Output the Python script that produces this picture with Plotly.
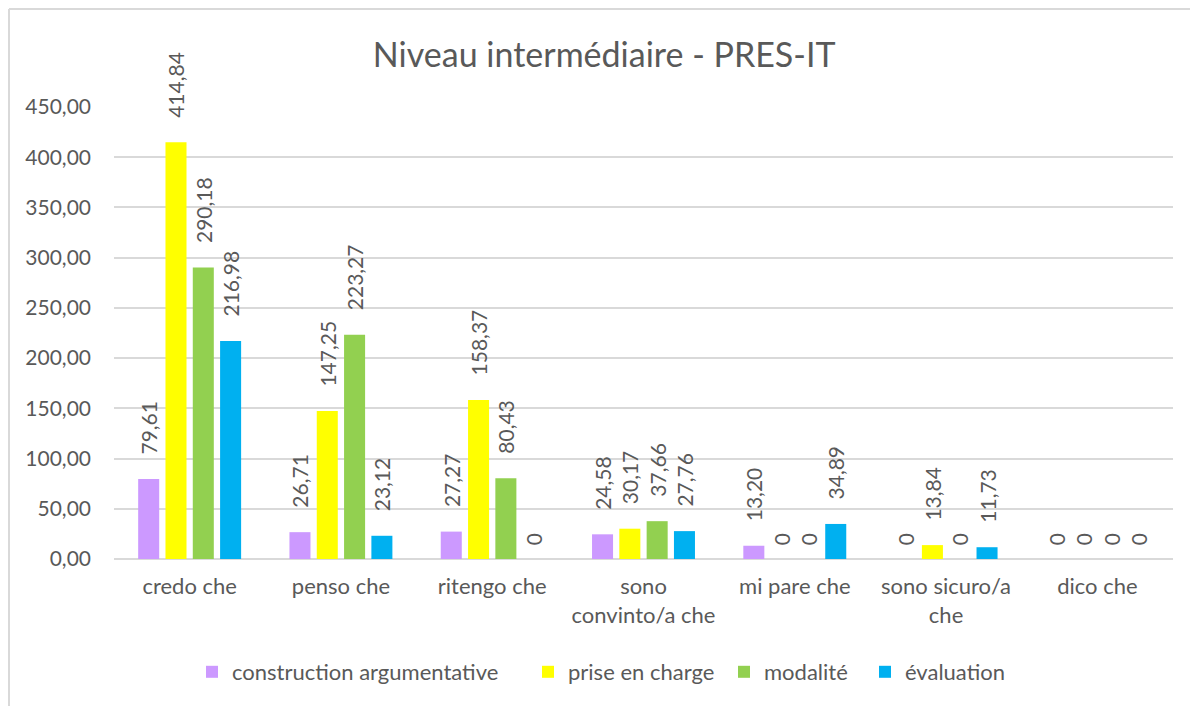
import plotly.graph_objects as go

categories = ["credo che", "penso che", "ritengo che", "sono<br>convinto/a che",
              "mi pare che", "sono sicuro/a<br>che", "dico che"]

construction = [79.61, 26.71, 27.27, 24.58, 13.20, 0, 0]
prise_charge = [414.84, 147.25, 158.37, 30.17, 0, 13.84, 0]
modalite = [290.18, 223.27, 80.43, 37.66, 0, 0, 0]
evaluation = [216.98, 23.12, 0, 27.76, 34.89, 11.73, 0]

series = [
    ("construction argumentative", construction, "#CC99FF"),
    ("prise en charge", prise_charge, "#FFFF00"),
    ("modalité", modalite, "#92D050"),
    ("évaluation", evaluation, "#00B0F0"),
]

GREY = "#595959"
FONT = "Lato, 'Open Sans', sans-serif"

# page is drawn with an 8px body margin, so the figure is a bit smaller
W, H = 1190, 698
L, R, T, B = 106, 25, 99, 147
PW = W - L - R
PH = H - T - B


def label(v):
    # excel style: zeros shown as plain 0, others with comma decimal
    if v == 0:
        return "\u00a0\u00a0" + "0"
    return "\u00a0" * 4 + f"{v:.2f}".replace(".", ",")


# legend text start (page px) for each series
legend_text_x = [232, 568, 764, 905]

fig = go.Figure()
for i, (name, vals, col) in enumerate(series):
    fig.add_trace(go.Bar(
        x=categories, y=vals, name=name,
        marker=dict(color=col, line=dict(width=0)),
        text=[label(v) for v in vals],
        textposition="outside", textangle=-90,
        textfont=dict(size=21, color=GREY, family=FONT),
        constraintext="none", cliponaxis=False,
        legend="legend" if i == 0 else f"legend{i + 1}",
    ))

legends = {}
for i, tx in enumerate(legend_text_x):
    key = "legend" if i == 0 else f"legend{i + 1}"
    legends[key] = dict(orientation="h", x=(tx - 8 - 40 - L) / PW, xanchor="left",
                        y=-0.25, yanchor="middle", bgcolor="rgba(0,0,0,0)",
                        font=dict(size=22, color=GREY, family=FONT), itemwidth=30)

fig.update_layout(
    width=W, height=H,
    paper_bgcolor="white", plot_bgcolor="white",
    margin=dict(l=L, r=R, t=T, b=B),
    separators=", ",
    font=dict(family=FONT, color=GREY, size=21),
    title=dict(text="Niveau intermédiaire - PRES-IT", x=0.501, xanchor="center",
               y=0.933, yanchor="middle",
               font=dict(size=34, color=GREY, family=FONT)),
    barmode="group", bargap=0.278, bargroupgap=0.23,
    showlegend=True,
    xaxis=dict(showgrid=False, showline=False, ticks="", ticklabelstandoff=12,
               tickfont=dict(size=22, color=GREY, family=FONT)),
    yaxis=dict(range=[0, 450], dtick=50, tickformat=".2f",
               showgrid=True, gridcolor="#D9D9D9", gridwidth=1.5,
               zeroline=True, zerolinecolor="#D9D9D9", zerolinewidth=1.5,
               showline=False, ticks="", ticklabelstandoff=22,
               tickfont=dict(size=21, color=GREY, family=FONT)),
    shapes=[
        dict(type="line", xref="paper", yref="paper",
             x0=(1 - L) / PW, x1=(W - L) / PW, y0=(PH + T - 1) / PH, y1=(PH + T - 1) / PH,
             line=dict(color="#D9D9D9", width=2)),
        dict(type="line", xref="paper", yref="paper",
             x0=(1 - L) / PW, x1=(1 - L) / PW, y0=(PH + T - 1) / PH, y1=-B / PH,
             line=dict(color="#D9D9D9", width=2)),
    ],
    **legends,
)

fig.write_html("out.html")
